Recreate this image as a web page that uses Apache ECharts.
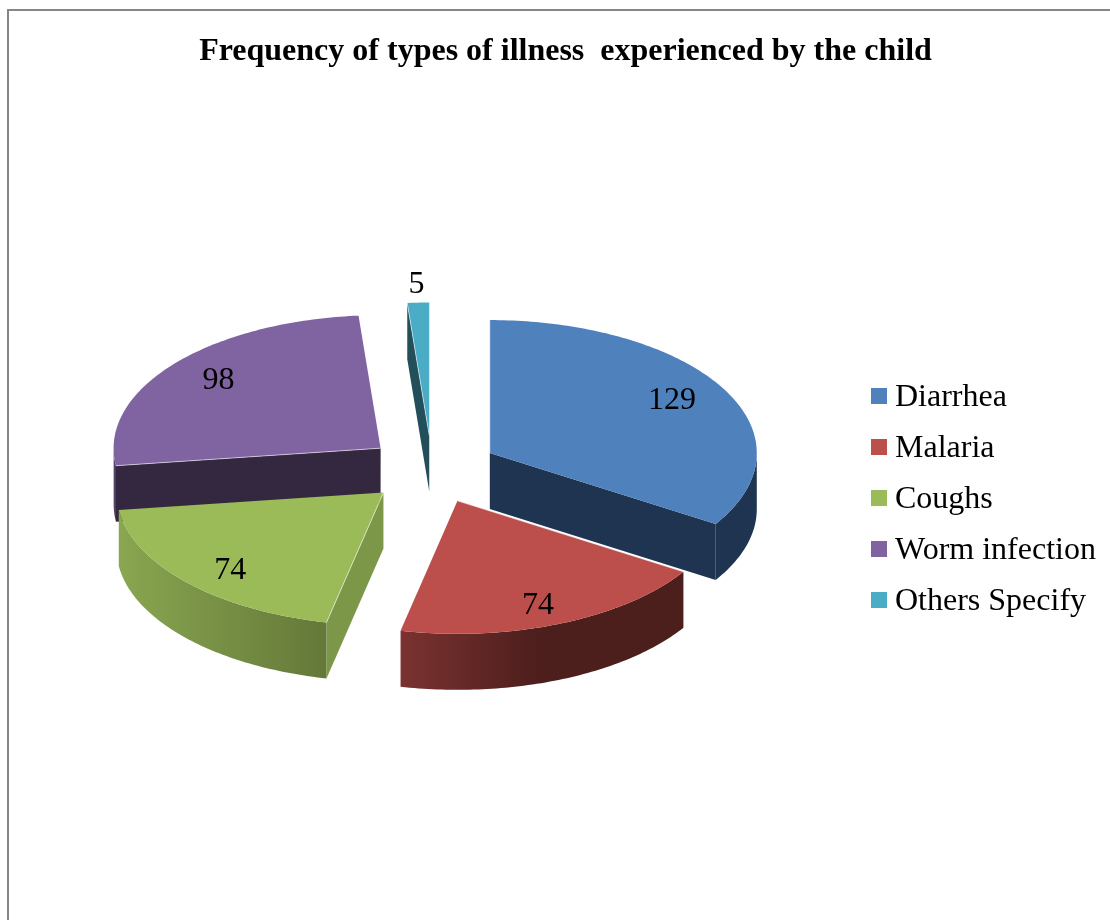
<!DOCTYPE html>
<html>
<head>
<meta charset="utf-8">
<style>html,body{margin:0;padding:0;background:#fff}#chart{width:1110px;height:920px}</style>
<script src="https://cdn.jsdelivr.net/npm/echarts@6/dist/echarts.min.js"></script>
</head>
<body>
<div id="chart"></div>
<script>
// Survey counts per illness
const categories = ['Diarrhea', 'Malaria', 'Coughs', 'Worm infection', 'Others Specify'];
const frequencies = [129, 74, 74, 98, 5];

// Shading of each slice: top face, outer wall (left to right), cut face
const topColors = ['#4F81BD', '#BC4F4C', '#9BBB59', '#8064A2', '#4BACC6'];
const wallLeft = ['#1E3450', '#7A3230', '#89A650', '#6A5488', '#234F5B'];
const wallRight = ['#1E3450', '#4C1E1C', '#647838', '#33283F', '#234F5B'];
const cutColors = ['#1E3450', '#4C1E1C', '#7D9749', '#33283F', '#234F5B'];

// Projection of the tilted pie
const pie = { cx: 432, cy: 469.5, rx: 267, ry: 133, depth: 56, explodeX: 66, explodeY: 34 };
const total = frequencies.reduce((a, b) => a + b, 0);
const toRad = d => d * Math.PI / 180;

// Clockwise sweep of each slice, in degrees from twelve o'clock
const sweeps = [];
frequencies.reduce((start, v) => {
  const end = start + v / total * 360;
  sweeps.push({ start, end, mid: (start + end) / 2 });
  return end;
}, 0);

const apexes = sweeps.map(s => ({
  x: pie.cx + pie.explodeX * Math.sin(toRad(s.mid)),
  y: pie.cy - pie.explodeY * Math.cos(toRad(s.mid))
}));

function rimPoint(apex, deg, drop) {
  return [apex.x + pie.rx * Math.sin(toRad(deg)), apex.y - pie.ry * Math.cos(toRad(deg)) + (drop || 0)];
}

function arc(apex, from, to, drop) {
  const pts = [];
  const n = Math.max(2, Math.ceil(Math.abs(to - from)));
  for (let i = 0; i <= n; i++) pts.push(rimPoint(apex, from + (to - from) * i / n, drop));
  return pts;
}

// A cut face is the rectangle hanging below one straight edge of the slice
function cutFace(apex, deg, color) {
  const rim = rimPoint(apex, deg);
  return {
    type: 'polygon',
    z2: 2,
    shape: { points: [[apex.x, apex.y], rim, [rim[0], rim[1] + pie.depth], [apex.x, apex.y + pie.depth]] },
    style: { fill: color }
  };
}

function renderSlice(i) {
  return function (params, api) {
    const value = api.value(0);
    const s = sweeps[i], apex = apexes[i];
    const children = [];
    // cut faces turned towards the viewer
    if (Math.sin(toRad(s.start)) < -1e-6) children.push(cutFace(apex, s.start, cutColors[i]));
    if (Math.sin(toRad(s.end)) > 1e-6) children.push(cutFace(apex, s.end, cutColors[i]));
    // outer wall on the front half of the rim
    const wFrom = Math.max(s.start, 90), wTo = Math.min(s.end, 270);
    if (wTo > wFrom) {
      children.push({
        type: 'polygon',
        z2: 3,
        shape: { points: arc(apex, wFrom, wTo, 0).concat(arc(apex, wTo, wFrom, pie.depth)) },
        style: {
          fill: new echarts.graphic.LinearGradient(0, 0, 1, 0, [
            { offset: 0, color: wallLeft[i] },
            { offset: i === 1 ? 0.5 : 1, color: wallRight[i] },
            { offset: 1, color: wallRight[i] }
          ])
        }
      });
    }
    // top face
    children.push({
      type: 'polygon',
      z2: 4,
      shape: { points: [[apex.x, apex.y]].concat(arc(apex, s.start, s.end, 0)) },
      style: { fill: topColors[i] }
    });
    // pale glint along the leading straight edge of the top face
    children.push({
      type: 'polyline',
      z2: 4,
      shape: { points: [rimPoint(apex, s.start), [apex.x, apex.y]] },
      style: { fill: 'none', stroke: 'rgba(255,255,255,0.55)', lineWidth: 1 }
    });
    // value label, pushed outside the rim for very thin slices
    const thin = value / total < 0.05;
    const f = thin ? 1.15 : 0.78, g = thin ? 1.15 : 0.84;
    children.push({
      type: 'text',
      z2: 5,
      style: {
        text: String(value),
        x: apex.x + pie.rx * f * Math.sin(toRad(s.mid)),
        y: apex.y - pie.ry * g * Math.cos(toRad(s.mid)) + 2,
        align: 'center',
        verticalAlign: 'middle',
        fill: '#000',
        font: '32px "Liberation Serif"'
      }
    });
    return { type: 'group', children };
  };
}

// Slices further back are painted first
const paintRank = apexes.map(a => a.y).map((y, _, ys) => ys.filter(o => o < y).length);

const chart = echarts.init(document.getElementById('chart'), null, { renderer: 'canvas' });
chart.setOption({
  animation: false,
  backgroundColor: '#fff',
  title: {
    text: 'Frequency of types of illness  experienced by the child',
    left: 560.5,
    top: 31,
    textAlign: 'center',
    textStyle: { fontFamily: 'Liberation Serif', fontWeight: 'bold', fontSize: 32, color: '#000' }
  },
  legend: {
    orient: 'vertical',
    left: 871,
    top: 382,
    padding: 0,
    data: categories,
    icon: 'rect',
    itemWidth: 16,
    itemHeight: 16,
    itemGap: 19,
    selectedMode: false,
    formatter: name => '{t|' + name + '}',
    textStyle: {
      rich: {
        t: { fontFamily: 'Liberation Serif', fontSize: 32, color: '#000', padding: [4, 0, 0, 3] }
      }
    }
  },
  graphic: [{
    type: 'rect',
    silent: true,
    shape: { x: 8, y: 10, width: 1300, height: 1100 },
    style: { fill: 'none', stroke: '#868686', lineWidth: 2 }
  }],
  series: categories.map((name, i) => ({
    type: 'custom',
    name,
    coordinateSystem: 'none',
    z: 2 + paintRank[i],
    itemStyle: { color: topColors[i] },
    data: [frequencies[i]],
    renderItem: renderSlice(i)
  }))
});
</script>
</body>
</html>
